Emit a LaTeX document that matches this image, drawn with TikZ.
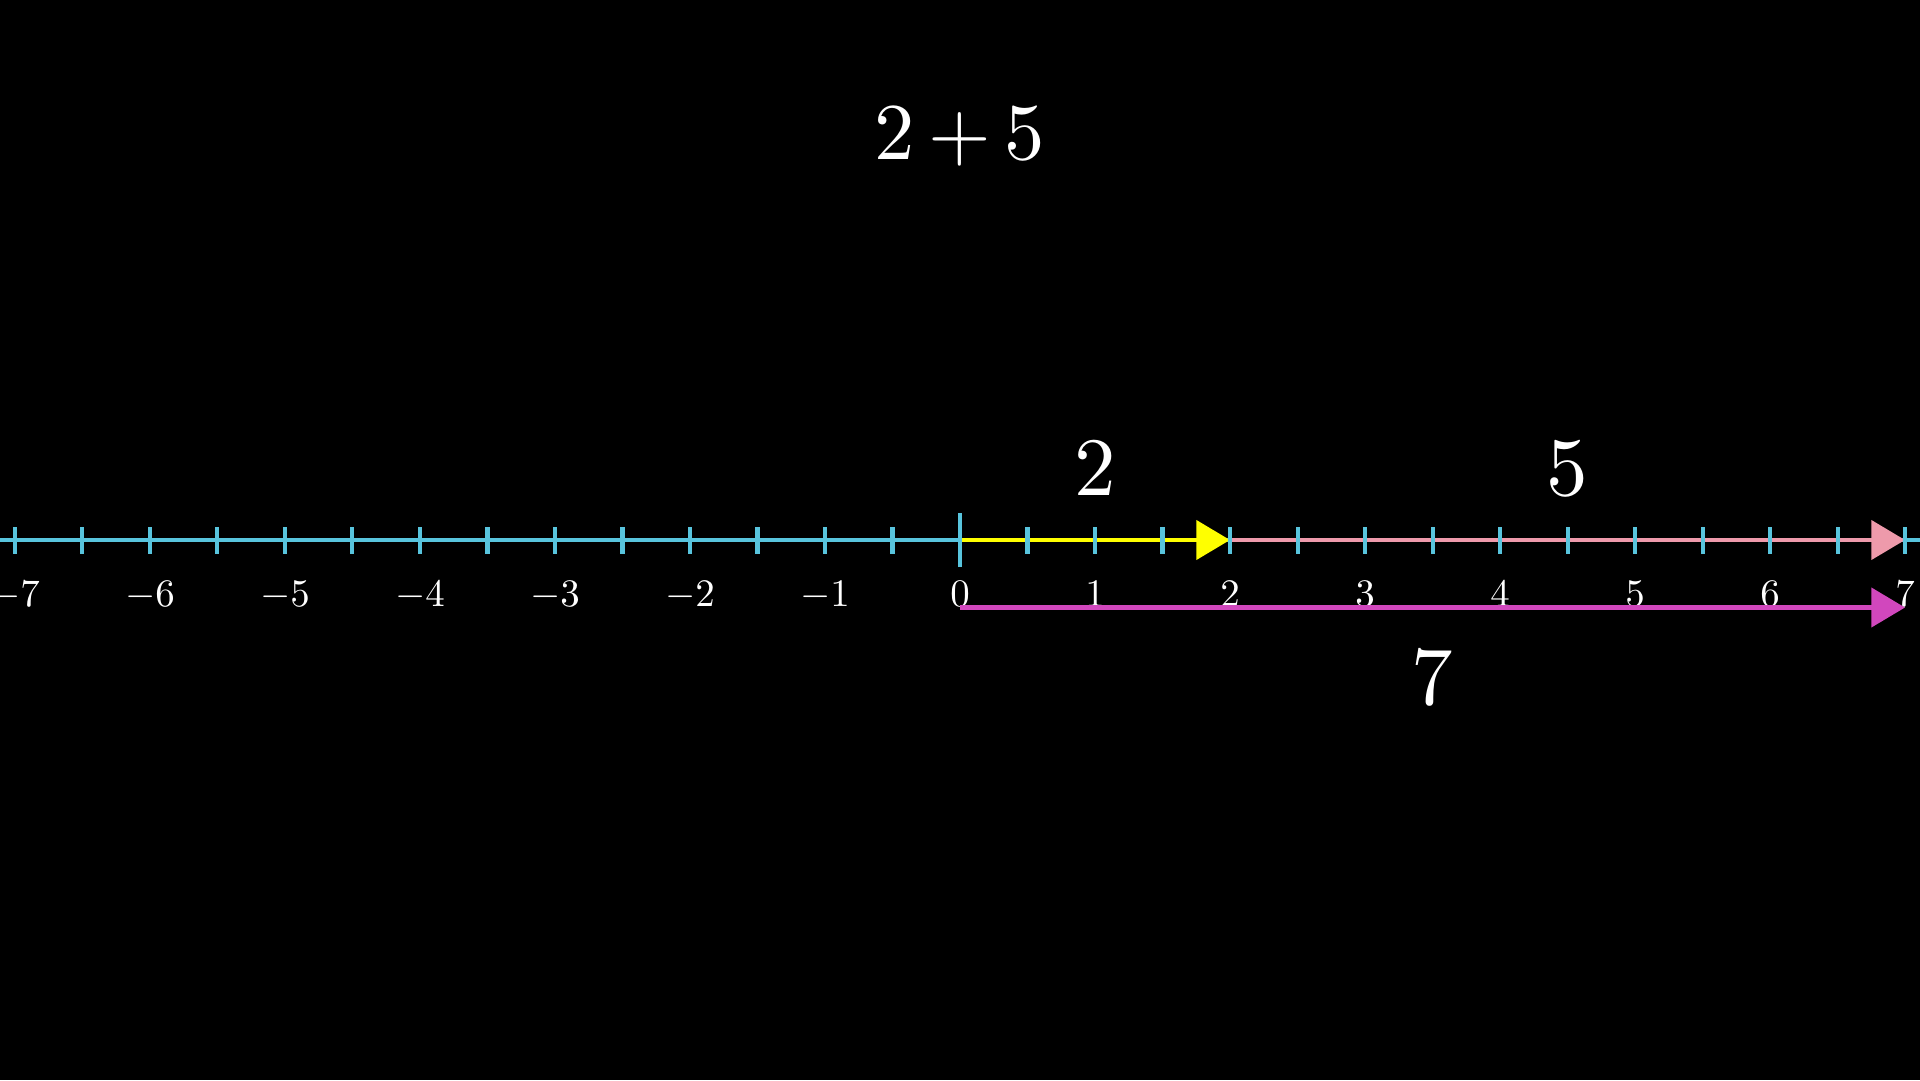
\documentclass[tikz,border=0pt]{standalone}
\usepackage{amsmath,amssymb}
\usetikzlibrary{arrows.meta, positioning}
\definecolor{AxisBlue}{HTML}{58C4DD}
\definecolor{FirstYellow}{HTML}{FFFF00}
\definecolor{SecondPink}{HTML}{EE9AAB}
\definecolor{TotalMagenta}{HTML}{D147BD}

\begin{document}
\begin{tikzpicture}[
        vec/.style={line width=0.85pt, -{Triangle[length=0.25cm, width=0.29cm]}},
        ticklabel/.style={text=white, inner sep=0pt, anchor=base, scale=0.82},
        biglabel/.style={text=white, inner sep=0pt, scale=1.75}]
            % Black frame
            \fill[black] (-7.111,-4) rectangle (7.111,4);
            \clip (-7.111,-4) rectangle (7.111,4);
            % Number line
            \coordinate (west) at (-7.111, 0);
            \coordinate (east) at (7.111, 0);
            \foreach \i in {-7,...,7} {
                \coordinate (n\i) at (\i, 0);
                \coordinate (m\i) at (\i, -0.5);
                \node[ticklabel] (lab\i) at (\i, -0.494) {$\i$};
            }
            \draw[AxisBlue, line width=0.85pt] (west) -- (east);
            % Sum vectors
            \draw[vec, FirstYellow] (n0) -- (n2);
            \draw[vec, SecondPink] (n2) -- (n7);
            \draw[vec, TotalMagenta] (m0) -- (m7);
            % Ticks on top
            \foreach \x in {-7,-6.5,...,7} {
                \draw[AxisBlue, line width=0.85pt] (\x, -0.1) -- (\x, 0.1);
            }
            \draw[AxisBlue, line width=0.85pt] (0, -0.2) -- (0, 0.2);
            % Labels
            \node[biglabel, anchor=base, scale=0.97] (sum) at (0, 2.815) {$\medmuskip=3mu 2+5$};
            \node[biglabel] (two) at (1, 0.525) {$2$};
            \node[biglabel] (five) at (4.5, 0.525) {$5$};
            \node[biglabel] (seven) at (3.5, -1.022) {$7$};
        \end{tikzpicture}
\end{document}
